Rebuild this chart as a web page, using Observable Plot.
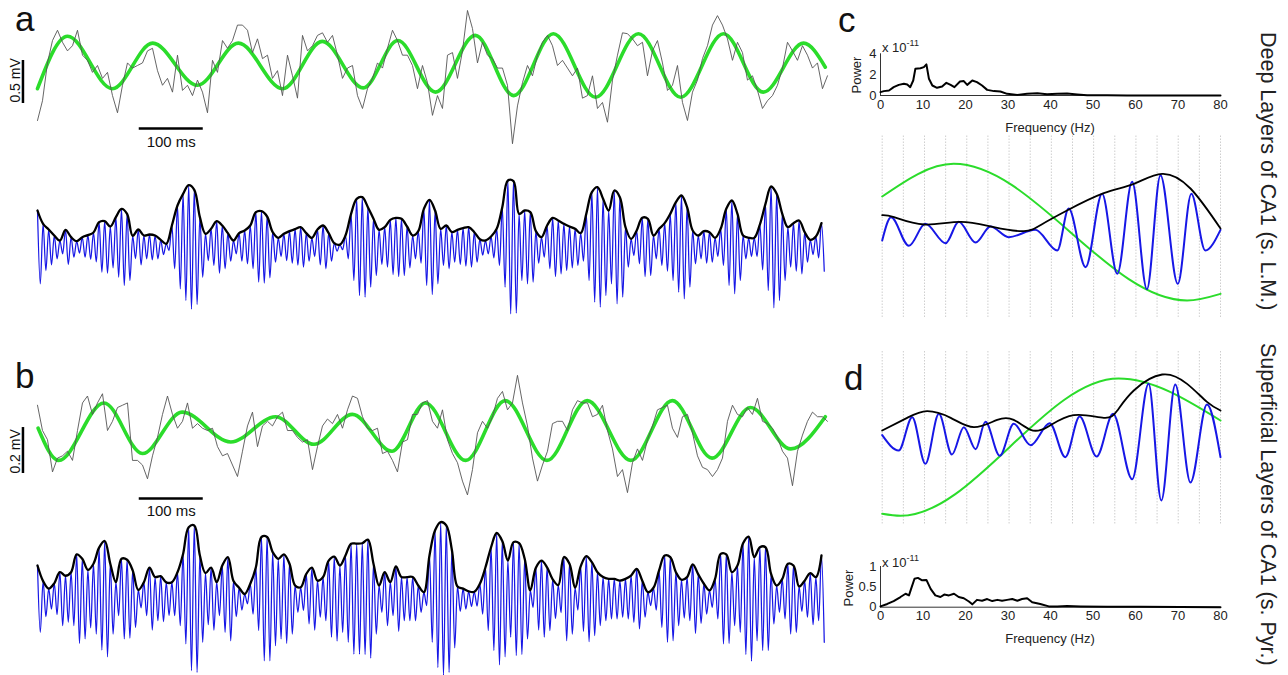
<!DOCTYPE html>
<html><head><meta charset="utf-8">
<script src="https://cdn.jsdelivr.net/npm/d3@7"></script>
<script src="https://cdn.jsdelivr.net/npm/@observablehq/plot@0.6"></script>
<style>
body{margin:0;background:#fff;font-family:"Liberation Sans",Arial,Helvetica,sans-serif;}
#fig{position:relative;width:1288px;height:675px;overflow:hidden;background:#fff;}
.lbl{position:absolute;color:#111;white-space:nowrap;line-height:1;}
.panel{font-size:35px;}
.side{font-size:21.5px;writing-mode:vertical-rl;color:#222;}
.ax{font-size:13px;color:#222;}
.rot{transform:translate(-50%,-50%) rotate(-90deg);}
.ctr{transform:translate(-50%,-50%);}
sup{font-size:9px;vertical-align:6px;}
</style></head><body><div id="fig"></div>
<script>
// ---------------- DATA ----------------
// raw LFP traces (mV), uniformly sampled every rawDt ms
const rawDt = 7.8125;
const rawA = [-0.64,-0.41,0.03,0.29,0.41,0.27,0.17,0.23,0.41,0.12,
 0.06,-0.08,0,-0.15,-0.08,-0.35,-0.55,-0.23,0.03,-0.03,
 0,0.03,0.17,0.20,-0.06,-0.23,-0.15,-0.31,0.12,-0.29,
 -0.23,-0.35,-0.17,-0.31,-0.55,0.06,-0.08,0.29,0.20,0.29,
 0.47,0.47,0.41,0.15,0.31,0.08,0.12,-0.15,-0.06,-0.35,
 0.12,-0.12,-0.38,0.35,0.17,0.23,0.35,0.38,0.27,0.35,
 0.12,-0.15,-0.03,0,-0.35,-0.50,-0.27,-0.15,0.03,-0.03,
 0.20,0.41,0.29,0.12,0.12,0,-0.27,0,-0.20,-0.58,
 -0.35,-0.50,0.12,0.15,-0.15,0.17,0.64,0.43,0.03,0.27,
 0.12,0.08,-0.03,-0.03,-0.23,-0.91,-0.47,-0.20,0,-0.12,
 0.12,0.27,0.35,0.23,0,0.06,-0.03,-0.12,-0.03,-0.38,
 -0.35,-0.12,-0.50,-0.43,-0.66,-0.17,0.12,0.38,0.37,0.31,
 0.23,0.27,-0.12,0.17,0.29,0.03,-0.29,-0.23,0,-0.43,
 -0.64,-0.31,-0.17,0.08,0.23,0.47,0.58,0.47,0.31,0.06,
 0.27,0.15,-0.17,-0.12,-0.29,-0.50,-0.41,-0.35,-0.23,-0.03,
 0.27,0.17,0.06,0.23,0.12,-0.03,0.03,-0.27,-0.12];
const rawB = [0.11,0,-0.04,-0.18,-0.12,-0.11,-0.09,-0.13,0,0.12,
 0.15,0.07,0.12,0.16,0,0.04,0.10,0.11,0.12,-0.13,
 -0.13,-0.15,-0.21,-0.11,-0.03,0.07,0.15,0.07,0.01,0.04,
 0.12,0.01,0.03,0.01,0,0.01,-0.07,-0.11,-0.10,-0.15,
 -0.20,-0.09,0.02,0.08,-0.07,0.02,0.04,0.02,0.06,0.08,
 0,0,-0.03,-0.05,-0.04,-0.17,-0.07,0.02,0.05,0.03,
 0.07,0.01,0.09,0.15,0.14,0.06,0.01,0,0.01,-0.10,
 -0.09,-0.13,-0.18,-0.05,-0.04,0.07,0.07,0.12,0.13,0.04,
 0.01,0.09,-0.04,-0.10,-0.14,-0.22,-0.28,-0.17,-0.01,0.04,
 0.01,0.06,0.14,0.17,0.09,0.12,0.24,0.12,0.02,-0.12,
 -0.22,-0.15,-0.09,0.03,0.04,0.04,0,0.09,0.13,0.12,
 0.12,0.06,0.07,0.11,0,-0.08,-0.20,-0.17,-0.27,-0.14,
 -0.08,-0.13,-0.04,0.02,0.09,0.10,0.11,0.01,-0.03,0.06,
 0.07,-0.01,-0.11,-0.16,-0.17,-0.20,-0.17,-0.12,0.04,0.11,
 0.07,0.06,0.10,0.07,0.14,0.04,0.03,0.01,-0.03,-0.09,
 -0.12,-0.24,-0.09,-0.02,0.04,0.08,0.06,0.06,0.04];
// theta-filtered traces: extrema [ms, mV]
const thetaA = [[0,-0.27],[47,0.34],[117,-0.27],[180,0.26],[250,-0.23],[314,0.26],[383,-0.27],[445,0.28],[509,-0.26],[563,0.29],[622,-0.31],[684,0.35],[744,-0.35],[806,0.37],[872,-0.37],[939,0.37],[1005,-0.37],[1072,0.37],[1134,-0.31],[1197,0.26],[1231,-0.02]];
const thetaB = [[1,0.01],[33,-0.13],[104,0.12],[164,-0.10],[226,0.08],[302,-0.05],[372,0.06],[432,-0.06],[492,0.07],[554,-0.09],[606,0.12],[669,-0.13],[731,0.13],[796,-0.13],[859,0.13],[927,-0.13],[992,0.13],[1054,-0.12],[1114,0.10],[1177,-0.08],[1231,0.06]];
// gamma amplitude per gamma cycle (µV), cycle length gammaT ms
const gammaT = 8.75;
const gammaAmpA = [440,280,212,140,80,208,120,72,120,144,
 176,300,312,248,360,460,400,136,212,140,
 152,140,88,40,260,500,640,744,688,360,
 160,220,312,260,168,80,168,200,260,420,
 432,368,180,112,160,192,216,240,168,112,
 212,260,168,48,30,140,400,580,600,480,
 340,208,240,328,352,340,248,140,192,460,
 568,440,220,260,180,208,228,240,180,96,
 80,128,220,480,800,792,400,440,420,192,
 120,260,352,320,280,248,220,168,400,660,
 720,580,440,680,600,240,100,200,352,340,
 140,220,288,400,540,620,480,200,140,192,
 180,112,220,460,560,400,140,112,112,272,
 520,728,640,400,240,288,320,180,88,128,288];
const gammaAmpB = [150,80,46,70,120,104,120,200,180,130,
 158,230,260,158,75,180,176,128,40,75,
 140,98,102,74,75,120,202,322,330,195,
 116,140,75,150,188,80,50,22,68,142,
 278,278,210,180,200,158,60,52,112,140,
 82,98,172,190,150,195,248,248,250,266,
 158,60,120,75,146,98,98,98,60,30,
 195,308,345,330,220,56,46,34,32,68,
 142,232,296,260,172,255,250,180,38,140,
 172,142,88,62,188,158,50,146,192,165,
 120,98,90,90,82,90,105,135,82,30,
 50,128,195,188,120,86,98,155,110,68,
 38,90,202,200,120,150,250,280,188,232,
 232,112,60,90,158,150,56,82,116,98,195];
// power spectra [Hz, power x1e-11]
const specC = [[0,0.32],[0.8,0.42],[2,0.48],[3.1,0.8],[4.3,1.02],[5.5,1.12],[6.3,1.05],[7,0.8],[7.7,1.44],[8.2,2.56],[9.4,2.62],[10.2,2.72],[10.8,2.98],[11.4,1.6],[12.2,0.96],[13.3,0.74],[14.5,0.86],[15.5,1.22],[16.5,1.02],[17.4,0.8],[18.7,1.34],[19.6,1.38],[20.4,1.02],[21.6,1.44],[22.7,1.28],[23.9,0.96],[25.1,0.54],[26.7,0.42],[28.2,0.38],[29.8,0.16],[32.2,0.06],[34.5,0.16],[36.9,0.22],[39.2,0.13],[41.6,0.16],[43.9,0.19],[46.3,0.1],[48.6,0.03],[53.3,0.03],[58,0],[80,0]];
const specD = [[0,0.02],[1.6,0.08],[3.1,0.15],[4.7,0.25],[5.9,0.33],[6.7,0.29],[7.2,0.45],[8,0.7],[8.8,0.72],[9.8,0.66],[10.8,0.67],[11.8,0.45],[12.9,0.29],[14.1,0.25],[15,0.31],[16.1,0.29],[17.3,0.33],[18.4,0.25],[19.6,0.22],[20.8,0.14],[21.6,0.07],[22.7,0.18],[23.9,0.16],[25.1,0.2],[26.3,0.15],[27.5,0.18],[28.6,0.16],[29.8,0.18],[31,0.2],[32.2,0.16],[33.3,0.2],[34.5,0.22],[35.7,0.12],[37.6,0.08],[39.6,0.02],[41.6,0.02],[43.9,0.03],[47.1,0.02],[53.3,0.01],[61.2,0.01],[80,0]];
const freqTicks = [0,10,20,30,40,50,60,70,80];
const powerTicksC = [0,2,4];
const powerTicksD = [0,0.5,1];
// phase-amplitude plots (phase bin, a.u.)
const phaseGreenC = [[0,0.56],[16.9,1.05],[72.1,-1.0],[80,-0.9]];
const phaseBlueC = [[0,-0.10],[2.1,0.25],[6.3,-0.18],[10.2,0.15],[15,-0.14],[18.1,0.18],[22.1,-0.13],[25.6,0.11],[29.9,-0.05],[36.2,0.06],[41.4,-0.25],[44.1,0.38],[48.1,-0.5],[52,0.6],[55.6,-0.6],[59.1,0.78],[62.6,-0.83],[65.8,0.88],[69.9,-0.75],[73.1,0.6],[76.4,-0.25],[80,0.06]];
const phaseEnvC = [[0,0.28],[2.8,0.25],[9.9,0.14],[18.5,0.18],[26.4,0.10],[33.5,0.04],[37.4,0.13],[43.7,0.35],[52.4,0.61],[59.5,0.75],[66.2,0.9],[72.9,0.68],[80,0.08]];
const phaseGreenD = [[0,-1.0],[4.3,-1.03],[55.9,1.03],[80,0.40]];
const phaseBlueD = [[0,0.18],[3.9,-0.05],[7.1,0.45],[10.2,-0.25],[13.4,0.5],[16.5,-0.11],[19.3,0.3],[22.1,-0.03],[24.4,0.38],[27.8,-0.13],[31.1,0.35],[35.1,0.03],[39.6,0.36],[43.3,-0.15],[46.7,0.46],[50.7,-0.14],[54.6,0.5],[59.1,-0.48],[63,0.95],[66,-0.8],[69.3,0.94],[72.9,-0.53],[76.8,0.64],[80,-0.15]];
const phaseEnvD = [[0,0.25],[5.9,0.44],[10.6,0.54],[16.2,0.44],[21.7,0.30],[27.2,0.41],[31.1,0.41],[35.1,0.26],[39,0.30],[45.3,0.48],[52.4,0.44],[55.6,0.55],[59.5,0.85],[66.2,1.09],[72.1,0.95],[76.8,0.68],[80,0.55]];
const phaseBins = [0,5,10,15,20,25,30,35,40,45,50,55,60,65,70,75,80];

// ---------------- DRAWING ----------------
const fig = document.getElementById("fig");
const FONT = '"Liberation Sans", Arial, Helvetica, sans-serif';
const ST = {fontFamily: FONT, overflow: "visible", background: "transparent", color: "#111"};
function place(svg, left, top) {
  svg.style.position = "absolute"; svg.style.left = left + "px"; svg.style.top = top + "px";
  fig.appendChild(svg);
}
function label(html, cls, css) {
  const d = document.createElement("div"); d.className = "lbl " + cls; d.innerHTML = html;
  Object.assign(d.style, css); fig.appendChild(d);
}
const xDom = [-57.8, 1239.1];
const GREEN = "#2bdc2b", BLUE = "#1717e6";
const fst = d => d[0], snd = d => d[1];

function rawPanel(raw, theta, yDom, h, bar) {
  return Plot.plot({
    width: 830, height: h, margin: 0, style: ST,
    x: {domain: xDom, axis: null}, y: {domain: yDom, axis: null},
    marks: [
      Plot.line(theta, {x: fst, y: snd, stroke: GREEN, strokeWidth: 3.6, curve: "monotone-x"}),
      Plot.line(raw, {x: (d, i) => i * rawDt, y: d => d, stroke: "#555", strokeWidth: 0.9}),
      Plot.ruleX([-22.7], {y1: bar.lo, y2: bar.lo + bar.mv, stroke: "#000", strokeWidth: 2.5}),
      Plot.ruleY([bar.msY], {x1: 159, x2: 159 + 100, stroke: "#000", strokeWidth: 2.5}),
      Plot.text([bar.mvText], {x: -34.4, y: bar.mvTextY, rotate: -90, fontSize: 14, fill: "#111"}),
      Plot.text(["100 ms"], {x: 209, y: bar.msTextY, fontSize: 15, fill: "#111"})
    ]
  });
}
function gammaPanel(amps, yDom, h) {
  const env = amps.map((a, k) => ({t: k * gammaT, v: a}));
  const osc = amps.flatMap((a, k) => [{t: k * gammaT, v: a}, {t: k * gammaT + gammaT / 2, v: -a}]);
  return Plot.plot({
    width: 830, height: h, margin: 0, style: ST,
    x: {domain: xDom, axis: null}, y: {domain: yDom, axis: null},
    marks: [
      Plot.line(osc, {x: "t", y: "v", stroke: BLUE, strokeWidth: 1.25, curve: "monotone-x"}),
      Plot.line(env, {x: "t", y: "v", stroke: "#000", strokeWidth: 2.3, curve: "catmull-rom"})
    ]
  });
}
function specPanel(spec, ticks, yMax, mt, mb, fmt) {
  return Plot.plot({
    width: 400, height: 100, marginLeft: 40, marginRight: 20, marginTop: mt, marginBottom: mb,
    style: {...ST, fontSize: "13px", color: "#222"},
    x: {domain: [0, 80], ticks: freqTicks, tickSize: 0, tickPadding: 4, label: null},
    y: {domain: [0, yMax], ticks: ticks, tickSize: 0, tickPadding: 4, label: null, tickFormat: fmt},
    marks: [
      Plot.ruleX([0], {stroke: "#333"}), Plot.ruleY([0], {stroke: "#333"}),
      Plot.line(spec, {x: fst, y: snd, stroke: "#000", strokeWidth: 2})
    ]
  });
}
function phasePanel(green, blue, env, yDom, gridLo, gridHi) {
  return Plot.plot({
    width: 400, height: 190, marginLeft: 41.7, marginRight: 20, marginTop: 0, marginBottom: 0, style: ST,
    x: {domain: [0, 80], axis: null}, y: {domain: yDom, axis: null},
    marks: [
      Plot.ruleX(phaseBins, {y1: gridLo, y2: gridHi, stroke: "#b5b5b5", strokeWidth: 1, strokeDasharray: "1,2"}),
      Plot.line(green, {x: fst, y: snd, stroke: GREEN, strokeWidth: 2, curve: "monotone-x"}),
      Plot.line(blue, {x: fst, y: snd, stroke: BLUE, strokeWidth: 2, curve: "monotone-x"}),
      Plot.line(env, {x: fst, y: snd, stroke: "#000", strokeWidth: 1.8, curve: "natural"})
    ]
  });
}

place(rawPanel(rawA, thetaA, [-1.047, 0.756], 155, {lo: -0.442, mv: 0.5, msY: -0.733, mvText: "0.5 mV", mvTextY: -0.174, msTextY: -0.895}), 0, 0);
place(gammaPanel(gammaAmpA, [-880, 1040], 160), 0, 160);
place(rawPanel(rawB, thetaB, [-0.413, 0.261], 155, {lo: -0.187, mv: 0.2, msY: -0.296, mvText: "0.2 mV", mvTextY: -0.091, msTextY: -0.352}), 0, 370);
place(gammaPanel(gammaAmpB, [-344, 397], 165), 0, 510);

place(specPanel(specC, powerTicksC, 4, 13.3, 45, d => d), 840, 40);
place(phasePanel(phaseGreenC, phaseBlueC, phaseEnvC, [-1.3, 1.55], -1.25, 1.475), 840, 130);
place(phasePanel(phaseGreenD, phaseBlueD, phaseEnvD, [-1.25, 1.6], -1.15, 1.45), 840, 340);
place(specPanel(specD, powerTicksD, 1, 16, 43.3, d => d), 840, 550);

// text labels
label("a", "panel", {left: "15px", top: "1px"});
label("b", "panel", {left: "15px", top: "358px"});
label("c", "panel", {left: "838px", top: "2px"});
label("d", "panel", {left: "844px", top: "360px"});
label("Power", "ax rot", {left: "856px", top: "75px"});
label("Power", "ax rot", {left: "848px", top: "588px"});
label("x 10<sup>-11</sup>", "ax", {left: "882px", top: "39px"});
label("x 10<sup>-11</sup>", "ax", {left: "882px", top: "554px"});
label("Frequency (Hz)", "ax ctr", {left: "1050px", top: "127px"});
label("Frequency (Hz)", "ax ctr", {left: "1050px", top: "638px"});
label("Deep Layers of CA1 (s. L.M.)", "side", {left: "1256px", top: "32px"});
label("Superficial Layers of CA1 (s. Pyr.)", "side", {left: "1256px", top: "343px"});
</script></body></html>
